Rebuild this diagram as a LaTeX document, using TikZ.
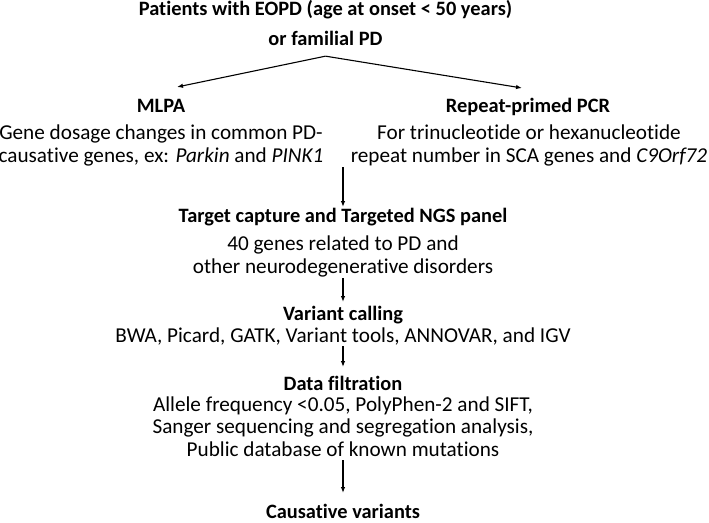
\documentclass[tikz,border=0pt]{standalone}
\usepackage{fontspec}
\setmainfont{Carlito}[Ligatures=NoCommon]
\usetikzlibrary{arrows.meta}

\begin{document}
\begin{tikzpicture}[x=1pt,y=-1pt,
    txt/.style={inner sep=1.5pt, outer sep=0pt, align=center, anchor=base, font=\fontsize{21.2}{22.5}\selectfont},
    head/.style={txt, font=\fontsize{20.4}{29}\selectfont\bfseries},
    arr/.style={-{Latex[length=6pt,width=4.5pt]}, line width=1.1pt}]
    \useasboundingbox (0,0) rectangle (709,522);

    % Patients
    \node[head, inner ysep=11pt] (patients) at (325.5,45) {Patients with EOPD (age at onset < 50 years)\\or familial PD};

    % First screening
    \node[head] (mlpa) at (161,112) {MLPA};
    \node[txt] (mlpatext) at (161,162) {Gene dosage changes in common PD-\\causative genes, ex: \textit{Parkin} and \textit{PINK1}};
    \node[head] (rpcr) at (528,112) {Repeat-primed PCR};
    \node[txt] (rpcrtext) at (529,162) {For trinucleotide or hexanucleotide\\repeat number in SCA genes and \textit{C9Orf72}};

    % NGS pipeline
    \node[head] (ngs) at (343,222) {Target capture and Targeted NGS panel};
    \node[txt] (ngstext) at (343,273) {40 genes related to PD and\\other neurodegenerative disorders};
    \node[head] (calling) at (343,320) {Variant calling};
    \node[txt] (callingtext) at (343,342) {BWA, Picard, GATK, Variant tools, ANNOVAR, and IGV};
    \node[head] (filter) at (343,390) {Data filtration};
    \node[txt] (filtertext) at (343,456) {Allele frequency <0.05, PolyPhen-2 and SIFT,\\Sanger sequencing and segregation analysis,\\Public database of known mutations};
    \node[head] (causal) at (343,518) {Causative variants};

    % Arrows
    \coordinate (mlpatip) at (177,87);
    \coordinate (rpcrtip) at (522,88);
    \draw[arr] (patients.south) -- (mlpatip);
    \draw[arr] (patients.south) -- (rpcrtip);

    \draw[arr, shorten >=15pt] (ngs.base |- mlpatext.south) -- (ngs.base);
    \draw[arr, shorten >=18pt] (ngstext.south) -- (calling.base);
    \draw[arr, shorten >=23pt] (callingtext.south) -- (filter.base);
    \draw[arr, shorten <=2.5pt, shorten >=25pt] (filtertext.south) -- (causal.base);

\end{tikzpicture}
\end{document}
